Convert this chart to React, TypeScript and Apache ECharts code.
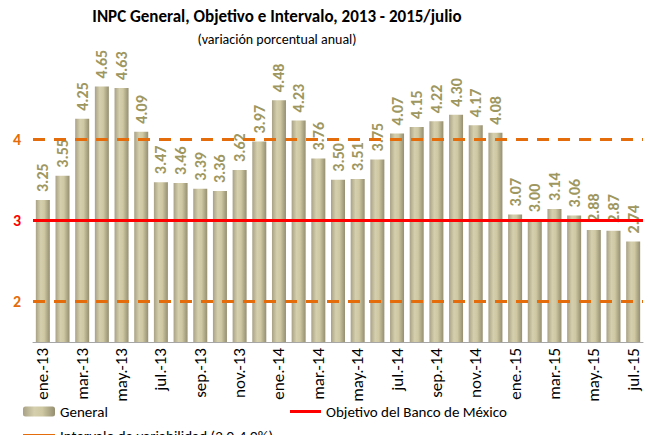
import React, { useEffect, useRef } from "react";
import * as echarts from "echarts";

const categories = [
  "ene.-13","feb.-13","mar.-13","abr.-13","may.-13","jun.-13","jul.-13","ago.-13","sep.-13","oct.-13","nov.-13","dic.-13",
  "ene.-14","feb.-14","mar.-14","abr.-14","may.-14","jun.-14","jul.-14","ago.-14","sep.-14","oct.-14","nov.-14","dic.-14",
  "ene.-15","feb.-15","mar.-15","abr.-15","may.-15","jun.-15","jul.-15",
];
const general = [
  3.25, 3.55, 4.25, 4.65, 4.63, 4.09, 3.47, 3.46, 3.39, 3.36, 3.62, 3.97,
  4.48, 4.23, 3.76, 3.50, 3.51, 3.75, 4.07, 4.15, 4.22, 4.30, 4.17, 4.08,
  3.07, 3.00, 3.14, 3.06, 2.88, 2.87, 2.74,
];
const objetivo = 3;
const intervaloBajo = 2;
const intervaloAlto = 4;

const FONT = "Carlito, 'Liberation Sans', Arial, sans-serif";

export default function App() {
  const ref = useRef<HTMLDivElement>(null);
  useEffect(() => {
    if (!ref.current) return;
    const chart = echarts.init(ref.current, undefined, { renderer: "svg" });
    const legendText = { fontFamily: FONT, fontSize: 15, color: "#000" };
    chart.setOption({
      animation: false,
      textStyle: { fontFamily: FONT },
      title: {
        text: "INPC General, Objetivo e Intervalo, 2013 - 2015/julio",
        subtext: "(variación porcentual anual)",
        left: 272,
        top: 3,
        textAlign: "center",
        itemGap: 7,
        textStyle: { fontFamily: FONT, fontSize: 17, fontWeight: "bold", color: "#000" },
        subtextStyle: { fontFamily: FONT, fontSize: 14, color: "#000" },
      },
      legend: [
        {
          data: ["General"],
          left: 23,
          top: 404,
          padding: 0,
          itemWidth: 32,
          itemHeight: 10,
          textStyle: legendText,
        },
        {
          data: [{ name: "Objetivo del Banco de México", icon: "rect" }],
          left: 290,
          top: 404,
          padding: 0,
          itemWidth: 31,
          itemHeight: 3,
          textStyle: legendText,
        },
        {
          data: [{ name: "Intervalo de variabilidad (2.0-4.0%)", icon: "rect" }],
          left: 23,
          top: 428,
          padding: 0,
          itemWidth: 32,
          itemHeight: 3,
          textStyle: legendText,
        },
      ],
      grid: { left: 33, right: 5, top: 58, bottom: 93 },
      xAxis: {
        type: "category",
        data: categories,
        axisLine: { lineStyle: { color: "#A6A6A6" } },
        axisTick: { interval: 1, length: 5, lineStyle: { color: "#A6A6A6" } },
        axisLabel: {
          interval: 1,
          rotate: 90,
          fontSize: 17,
          color: "#000",
          fontFamily: FONT,
          margin: 6,
        },
      },
      yAxis: {
        type: "value",
        min: 1.5,
        max: 5,
        interval: 0.5,
        splitLine: { show: false },
        axisLine: { show: false },
        axisTick: { show: false },
        axisLabel: {
          margin: 12,
          fontFamily: FONT,
          fontSize: 16,
          fontWeight: "bold",
          formatter: (v: number) => {
            if (v === 4) return "{o|4}";
            if (v === 3) return "{r|3}";
            if (v === 2) return "{o|2}";
            return "";
          },
          rich: {
            o: { color: "#E46C0A", fontWeight: "bold", fontSize: 16, fontFamily: FONT },
            r: { color: "#FF0000", fontWeight: "bold", fontSize: 16, fontFamily: FONT },
          },
        },
      },
      series: [
        {
          name: "General",
          type: "bar",
          data: general,
          barWidth: 14,
          itemStyle: {
            color: new echarts.graphic.LinearGradient(0, 0, 1, 0, [
              { offset: 0, color: "#A8A184" },
              { offset: 0.35, color: "#D6CFAE" },
              { offset: 0.6, color: "#CFC8A3" },
              { offset: 1, color: "#958E70" },
            ]),
          },
          label: {
            show: true,
            position: "top",
            rotate: 90,
            align: "left",
            verticalAlign: "middle",
            distance: 8,
            fontFamily: FONT,
            fontSize: 16,
            fontWeight: "bold",
            color: "#9E975F",
            formatter: (p: any) => Number(p.value).toFixed(2),
          },
          z: 1,
        },
        {
          name: "Objetivo del Banco de México",
          type: "line",
          data: [],
          symbol: "none",
          itemStyle: { color: "#FF0000" },
          lineStyle: { color: "#FF0000", width: 3 },
          markLine: {
            silent: true,
            symbol: "none",
            label: { show: false },
            lineStyle: { color: "#FF0000", width: 3, type: "solid" },
            data: [{ yAxis: objetivo }],
          },
          z: 3,
        },
        {
          name: "Intervalo de variabilidad (2.0-4.0%)",
          type: "line",
          data: [],
          symbol: "none",
          itemStyle: { color: "#E46C0A" },
          lineStyle: { color: "#E46C0A", width: 3, type: [12, 9] },
          markLine: {
            silent: true,
            symbol: "none",
            label: { show: false },
            lineStyle: { color: "#E46C0A", width: 3, type: [12, 9] },
            data: [{ yAxis: intervaloAlto }, { yAxis: intervaloBajo }],
          },
          z: 3,
        },
      ],
    });
    return () => chart.dispose();
  }, []);
  return <div ref={ref} style={{ width: 648, height: 435, position: "absolute", left: 0, top: 0 }} />;
}
